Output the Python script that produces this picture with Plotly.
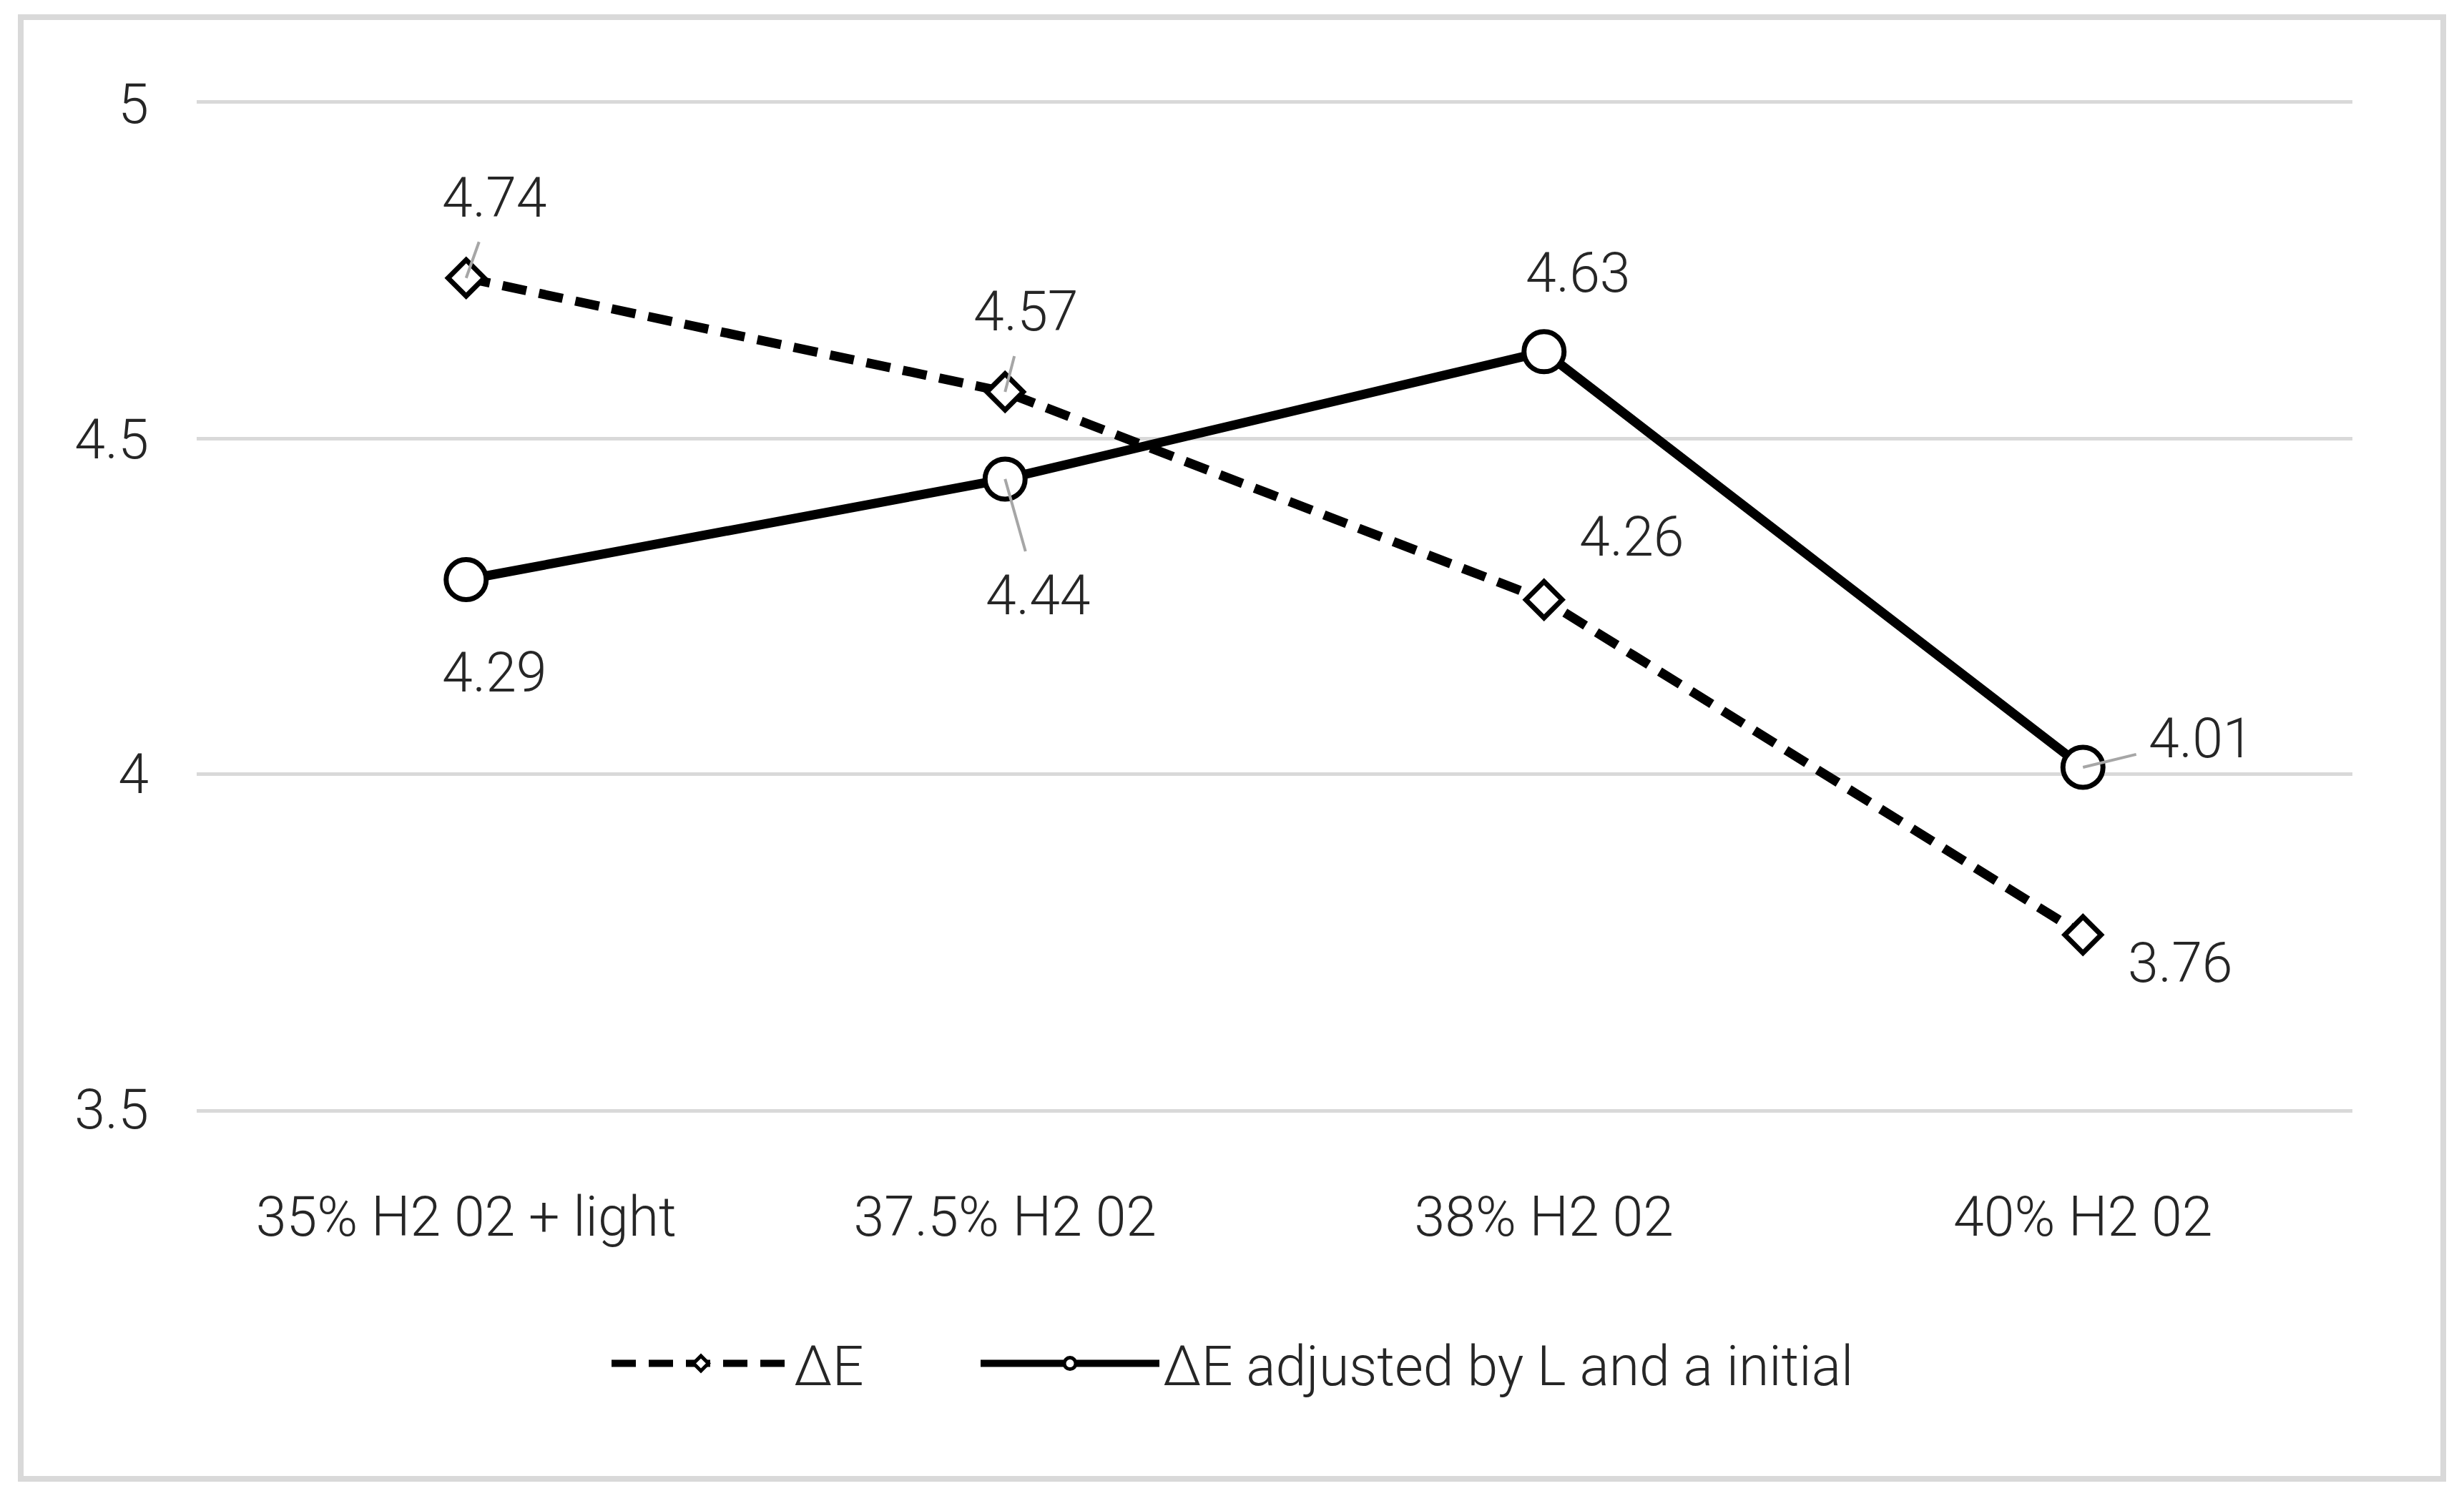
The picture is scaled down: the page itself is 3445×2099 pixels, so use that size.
import plotly.graph_objects as go

categories = ["35% H2 02 + light", "37.5% H2 02", "38% H2 02", "40% H2 02"]
delta_e = [4.74, 4.57, 4.26, 3.76]
delta_e_adj = [4.29, 4.44, 4.63, 4.01]
series_names = ["ΔE", "ΔE adjusted by L and a initial"]
y_ticks = [3.5, 4, 4.5, 5]

# page body has an 8px margin; work in figure coordinates
PAGE_W, PAGE_H, OFF = 3445, 2099, 8
W, H = PAGE_W - 2 * OFF, PAGE_H - 2 * OFF
PL, PR, PT, PB = 275, 3289, 145, 1551          # plot area in page pixels
ML, MT = PL - OFF, PT - OFF
MR, MB = W - (PR - OFF), H - (PB - OFF)
FONT = "Roboto"
TXT = "#262626"
FS = 77
GRID = "#d9d9d9"
pw = PR - PL
ph = PB - PT

fig = go.Figure()
fig.add_trace(go.Scatter(
    x=categories, y=delta_e, name=series_names[0], mode="lines+markers",
    line=dict(color="black", width=13, dash="34px,18px"),
    marker=dict(symbol="diamond", size=39, color="white", line=dict(color="black", width=7)),
    legend="legend",
))
fig.add_trace(go.Scatter(
    x=categories, y=delta_e_adj, name=series_names[1], mode="lines+markers",
    line=dict(color="black", width=13),
    marker=dict(symbol="circle", size=56, color="white", line=dict(color="black", width=7)),
    legend="legend2",
))

# label offsets (px) and whether a leader line is drawn
lab_de = [(40, -112, True), (29, -112, True), (123, -88, False), (136, 40, False)]
lab_adj = [(40, 130, False), (46, 163, True), (48, -110, False), (165, -40, True)]

def add_labels(vals, offs):
    for c, v, (dx, dy, lead) in zip(categories, vals, offs):
        f = dict(family=FONT, size=FS, color=TXT, weight=300)
        if lead:
            fig.add_annotation(x=c, y=v, text=f"{v:.2f}", showarrow=True,
                               ax=dx, ay=dy, arrowhead=0, arrowwidth=4,
                               arrowcolor="#a6a6a6", startstandoff=16, font=f)
        else:
            fig.add_annotation(x=c, y=v, text=f"{v:.2f}", showarrow=False,
                               xshift=dx, yshift=-dy, font=f)

add_labels(delta_e, lab_de)
add_labels(delta_e_adj, lab_adj)

bx0, bx1 = 29, PAGE_W - 29
by0, by1 = 24, PAGE_H - 31
fig.add_shape(type="rect", xref="paper", yref="paper",
              x0=(bx0 - PL) / pw, x1=(bx1 - PL) / pw,
              y0=(PB - by1) / ph, y1=(PB - by0) / ph,
              line=dict(color=GRID, width=8), fillcolor="rgba(0,0,0,0)", layer="below")

leg_y = (PB - 1907) / ph
leg_font = dict(family=FONT, size=FS, color=TXT, weight=300)
common = dict(orientation="h", xanchor="left", y=leg_y, yanchor="middle",
              font=leg_font, itemwidth=250, itemsizing="trace",
              bgcolor="rgba(0,0,0,0)")
fig.update_layout(
    width=W, height=H,
    margin=dict(l=ML, r=MR, t=MT, b=MB, autoexpand=False),
    paper_bgcolor="white", plot_bgcolor="white",
    font=dict(family=FONT, size=FS, color=TXT, weight=300),
    showlegend=True,
    legend=dict(x=(850 - PL) / pw, **common),
    legend2=dict(x=(1366 - PL) / pw, **common),
    xaxis=dict(range=[-0.5, 3.5], showgrid=False, zeroline=False,
               showline=True, mirror=True, linecolor=GRID, linewidth=5,
               ticks="", ticklabelstandoff=80, tickfont=dict(size=FS)),
    yaxis=dict(range=[3.5, 5], tickvals=y_ticks, ticktext=[f"{t:g}" for t in y_ticks],
               showgrid=True, gridcolor=GRID, gridwidth=5, zeroline=False,
               showline=False, ticks="", ticklabelstandoff=66, tickfont=dict(size=FS)),
)

fig.write_html("out.html")
